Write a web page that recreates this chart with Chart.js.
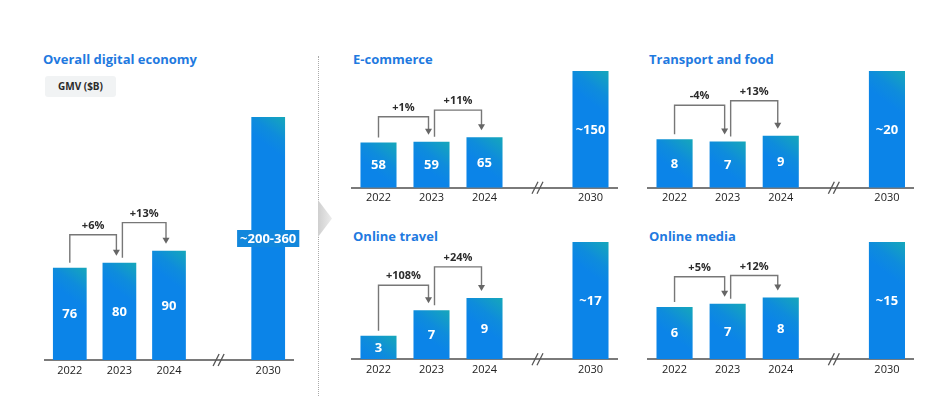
<!DOCTYPE html>
<html lang="en">
<head>
    <meta charset="UTF-8">
    <title>Digital economy GMV</title>
    <script src="https://cdn.jsdelivr.net/npm/chart.js@4.4.1/dist/chart.umd.min.js"></script>
    <style>
        body {
            margin: 0;
            background: #fff;
            font-family: 'Open Sans', sans-serif;
        }
        .page {
            position: relative;
            width: 933px;
            height: 406px;
            overflow: hidden;
        }
        .title {
            position: absolute;
            font-size: 13px;
            font-weight: 700;
            line-height: 18px;
            color: #1f7ae0;
            white-space: nowrap;
        }
        .badge {
            position: absolute;
            left: 45px;
            top: 76px;
            width: 71px;
            height: 21px;
            line-height: 21px;
            background: #f1f3f4;
            border-radius: 3px;
            font-size: 10px;
            font-weight: 700;
            color: #2b2b2b;
            text-align: center;
        }
        .divider {
            position: absolute;
            left: 318px;
            top: 56px;
            height: 340px;
            border-left: 1px dotted #aaa;
        }
        .chevron {
            position: absolute;
            left: 318px;
            top: 200px;
            width: 14px;
            height: 37px;
            background: linear-gradient(90deg, #cfcfcf, #ececec);
            clip-path: polygon(0 0, 100% 50%, 0 100%);
        }
        canvas {
            position: absolute;
        }
    </style>
</head>
<body>
<div class="page" id="page">
    <div class="title" style="left:43px; top:50px;">Overall digital economy</div>
    <div class="badge">GMV ($B)</div>
    <div class="divider"></div>
    <div class="chevron"></div>
    <div class="title" style="left:353px; top:50px;">E-commerce</div>
    <div class="title" style="left:649px; top:50px;">Transport and food</div>
    <div class="title" style="left:353px; top:227px;">Online travel</div>
    <div class="title" style="left:649px; top:227px;">Online media</div>
</div>

<script>
    // x categories (the empty one is the gap where the axis break sits)
    const years = ['2022', '2023', '2024', '', '2030'];

    const overallValues = [76, 80, 90, null, 200];
    const overallLabels = ['76', '80', '90', '', '~200-360'];
    const overallGrowth = ['+6%', '+13%'];

    const ecommerceValues = [58, 59, 65, null, 150];
    const ecommerceLabels = ['58', '59', '65', '', '~150'];
    const ecommerceGrowth = ['+1%', '+11%'];

    const transportValues = [8.3, 7.9, 8.9, null, 20];
    const transportLabels = ['8', '7', '9', '', '~20'];
    const transportGrowth = ['-4%', '+13%'];

    const travelValues = [3.4, 7.1, 8.9, null, 17];
    const travelLabels = ['3', '7', '9', '', '~17'];
    const travelGrowth = ['+108%', '+24%'];

    const mediaValues = [6.7, 7.1, 7.9, null, 15];
    const mediaLabels = ['6', '7', '8', '', '~15'];
    const mediaGrowth = ['+5%', '+12%'];

    // where each plot area sits on the page, plus bracket rise above bars
    const panels = [
        { values: overallValues, labels: overallLabels, growth: overallGrowth,
          area: { l: 45, r: 293, t: 117, b: 360 }, rise: [28, 28], box: true },
        { values: ecommerceValues, labels: ecommerceLabels, growth: ecommerceGrowth,
          area: { l: 351.5, r: 616.5, t: 71, b: 187.7 }, rise: [25, 27] },
        { values: transportValues, labels: transportLabels, growth: transportGrowth,
          area: { l: 648, r: 913.5, t: 71, b: 187.7 }, rise: [34, 35] },
        { values: travelValues, labels: travelLabels, growth: travelGrowth,
          area: { l: 351.5, r: 616.5, t: 242, b: 359.3 }, rise: [25, 31] },
        { values: mediaValues, labels: mediaLabels, growth: mediaGrowth,
          area: { l: 648, r: 913.5, t: 242, b: 359.3 }, rise: [27, 22] }
    ];

    const BAR_PCT = 0.68;
    const TICK_PAD = 4;
    const AXIS_H = 11 * 1.2 + TICK_PAD * 2;

    Chart.defaults.font.family = "'Open Sans', sans-serif";

    function barGradient(ctx) {
        const chart = ctx.chart;
        if (!chart.chartArea || ctx.raw == null) return '#0b84e6';
        const xs = chart.scales.x, ys = chart.scales.y;
        const cx = xs.getPixelForValue(ctx.dataIndex);
        const top = ys.getPixelForValue(ctx.raw);
        const half = chart.chartArea.width / years.length * BAR_PCT / 2;
        // teal only in the top-right corner, blue everywhere else
        const g = chart.ctx.createLinearGradient(cx + half, top, cx - half * 0.2, top + half * 1.6);
        g.addColorStop(0, '#16a7ba');
        g.addColorStop(0.6, '#0e8cdc');
        g.addColorStop(1, '#0b84e8');
        return g;
    }

    function decoPlugin(p) {
        return {
            id: 'deco',
            afterDatasetsDraw(chart) {
                const ctx = chart.ctx;
                const bars = chart.getDatasetMeta(0).data;

                // value labels inside the bars
                ctx.save();
                ctx.font = "700 13px 'Open Sans', sans-serif";
                ctx.textAlign = 'center';
                ctx.textBaseline = 'middle';
                p.labels.forEach((txt, i) => {
                    if (!txt) return;
                    const b = bars[i];
                    const y = (b.y + b.base) / 2;
                    if (p.box && i === 4) {
                        const w = ctx.measureText(txt).width + 6;
                        ctx.fillStyle = '#1287dc';
                        ctx.fillRect(b.x - w / 2, y - 8.5, w, 17);
                    }
                    ctx.fillStyle = '#fff';
                    ctx.fillText(txt, b.x, y + 0.5);
                });
                ctx.restore();

                // growth brackets
                ctx.save();
                ctx.strokeStyle = '#777';
                ctx.lineWidth = 1.4;
                for (let i = 0; i < 2; i++) {
                    const a = bars[i], c = bars[i + 1];
                    const x0 = i === 0 ? a.x : a.x + 3;
                    const x1 = c.x - 3;
                    const level = Math.min(a.y, c.y) - p.rise[i];
                    const tip = c.y - 7;
                    ctx.beginPath();
                    ctx.moveTo(x0, a.y - 5);
                    ctx.lineTo(x0, level);
                    ctx.lineTo(x1, level);
                    ctx.lineTo(x1, tip - 5);
                    ctx.stroke();
                    ctx.fillStyle = '#666';
                    ctx.beginPath();
                    ctx.moveTo(x1 - 3.5, tip - 6);
                    ctx.lineTo(x1 + 3.5, tip - 6);
                    ctx.lineTo(x1, tip);
                    ctx.closePath();
                    ctx.fill();

                    ctx.font = "700 11px 'Open Sans', sans-serif";
                    ctx.textAlign = 'center';
                    ctx.textBaseline = 'middle';
                    ctx.fillStyle = '#2b2b2b';
                    ctx.fillText(p.growth[i], (x0 + x1) / 2, level - 9);
                }
                ctx.restore();
            },
            afterDraw(chart) {
                // axis break marks at the empty category
                const ctx = chart.ctx;
                const x = chart.scales.x.getPixelForValue(3);
                const y = chart.chartArea.bottom;
                ctx.save();
                ctx.strokeStyle = '#555';
                ctx.lineWidth = 1.3;
                [-2.5, 2.5].forEach(d => {
                    ctx.beginPath();
                    ctx.moveTo(x + d - 3, y + 6);
                    ctx.lineTo(x + d + 3, y - 6);
                    ctx.stroke();
                });
                ctx.restore();
            }
        };
    }

    function makePanel(p) {
        const padL = 12, padT = 12, padR = 12;
        const areaW = p.area.r - p.area.l;
        const areaH = p.area.b - p.area.t;
        const W = Math.ceil(areaW + padL + padR);
        const H = Math.ceil(padT + areaH + AXIS_H);
        const canvas = document.createElement('canvas');
        canvas.width = W;
        canvas.height = H;
        canvas.style.width = W + 'px';
        canvas.style.height = H + 'px';
        canvas.style.left = (p.area.l - padL) + 'px';
        canvas.style.top = (p.area.t - padT) + 'px';
        document.getElementById('page').appendChild(canvas);

        new Chart(canvas, {
            type: 'bar',
            data: {
                labels: years,
                datasets: [{
                    data: p.values,
                    backgroundColor: barGradient,
                    borderWidth: 0,
                    barPercentage: BAR_PCT,
                    categoryPercentage: 1
                }]
            },
            options: {
                responsive: false,
                animation: false,
                events: [],
                layout: {
                    padding: { left: padL, top: padT, right: W - padL - areaW, bottom: H - padT - areaH - AXIS_H }
                },
                plugins: {
                    legend: { display: false },
                    tooltip: { enabled: false }
                },
                scales: {
                    x: {
                        grid: { display: false, drawTicks: false },
                        border: { display: true, color: '#7a7a7a', width: 2 },
                        ticks: { color: '#222', padding: TICK_PAD, font: { size: 11 } }
                    },
                    y: {
                        display: false,
                        min: 0,
                        max: p.values[4]
                    }
                }
            },
            plugins: [decoPlugin(p)]
        });
    }

    panels.forEach(makePanel);
</script>
</body>
</html>
